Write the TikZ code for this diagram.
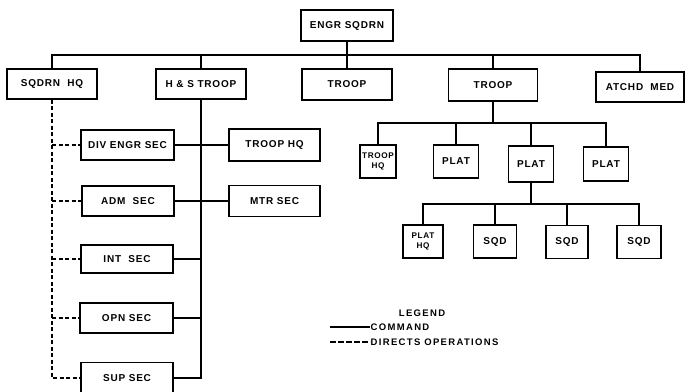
\documentclass[tikz,border=0pt]{standalone}
\usepackage{fontspec}
\setmainfont[LetterSpace=8]{Liberation Sans}
\begin{document}
\begin{tikzpicture}[x=1pt,y=-1pt,
  box/.style={draw, line width=1.7pt, inner sep=0pt, align=center,
    font=\bfseries\fontsize{10}{11}\selectfont},
  smallbox/.style={box, font=\bfseries\fontsize{8.2}{9.2}\selectfont},
  lbl/.style={inner sep=0.5pt, font=\bfseries\fontsize{9.5}{10.5}\selectfont\addfontfeatures{LetterSpace=14}},
  cmd/.style={line width=1.8pt},
  ops/.style={line width=1.8pt, dash pattern=on 4pt off 2.5pt}]
\useasboundingbox (0,0) rectangle (685,391);

% top level
\node[box, minimum width=92pt, minimum height=31pt] (engr) at (347,25.5) {ENGR SQDRN};
\node[box, minimum width=90pt, minimum height=30pt] (sqhq) at (52,84) {SQDRN~~HQ};
\node[box, minimum width=90pt, minimum height=30pt] (hs) at (201,84) {H \& S TROOP};
\node[box, minimum width=90pt, minimum height=31pt] (tra) at (347,84.5) {TROOP};
\node[box, minimum width=89pt, minimum height=32pt] (trb) at (493,85) {TROOP};
\node[box, minimum width=88pt, minimum height=30pt] (med) at (640,87) {ATCHD~~MED};

% H&S troop sections
\node[box, minimum width=93pt, minimum height=30pt] (div) at (127.5,145) {DIV ENGR SEC};
\node[box, minimum width=92pt, minimum height=30pt] (adm) at (128,201) {ADM~~SEC};
\node[box, minimum width=92pt, minimum height=28pt] (int) at (127,259) {INT~~SEC};
\node[box, minimum width=93pt, minimum height=30pt] (opn) at (126.5,318) {OPN SEC};
\node[box, minimum width=92pt, minimum height=31pt] (sup) at (127,378) {SUP SEC};
\node[box, minimum width=91pt, minimum height=32pt] (thq) at (274.5,145) {TROOP HQ};
\node[box, minimum width=91pt, minimum height=31pt] (mtr) at (274.5,201) {MTR SEC};

% troop subtree
\node[smallbox, minimum width=36pt, minimum height=33pt] (thqb) at (378,161.5) {TROOP\\HQ};
\node[box, minimum width=45pt, minimum height=33pt] (pa) at (456,161.5) {PLAT};
\node[box, minimum width=45pt, minimum height=36pt] (pb) at (531,164) {PLAT};
\node[box, minimum width=45pt, minimum height=34pt] (pc) at (606,164) {PLAT};
\node[smallbox, minimum width=40pt, minimum height=33pt] (phq) at (423,241.5) {PLAT\\HQ};
\node[box, minimum width=43pt, minimum height=33pt] (sa) at (495,241.5) {SQD};
\node[box, minimum width=42pt, minimum height=33pt] (sb) at (567,242) {SQD};
\node[box, minimum width=44pt, minimum height=33pt] (sc) at (639,242) {SQD};

% top bus
\coordinate (busA) at (0,55);
\draw[cmd] (engr.south) -- (tra.north);
\draw[cmd] (sqhq.north) |- (med.north |- busA) -- (med.north);
\draw[cmd] (hs.north) -- (hs.north |- busA);
\draw[cmd] (trb.north) -- (trb.north |- busA);

% directs operations (dashed)
\draw[ops] (sqhq.south) -- (sqhq.south |- sup.west) -- (sup.west);
\draw[ops] (sqhq.south |- div.west) -- (div.west);
\draw[ops] (sqhq.south |- adm.west) -- (adm.west);
\draw[ops] (sqhq.south |- int.west) -- (int.west);
\draw[ops] (sqhq.south |- opn.west) -- (opn.west);

% command from H&S troop
\draw[cmd] (hs.south) -- (hs.south |- sup.east) -- (sup.east);
\draw[cmd] (div.east) -- (thq.west);
\draw[cmd] (adm.east) -- (mtr.west);
\draw[cmd] (int.east) -- (hs.south |- int.east);
\draw[cmd] (opn.east) -- (hs.south |- opn.east);

% troop subtree connectors
\coordinate (busB) at (0,123);
\draw[cmd] (trb.south) -- (trb.south |- busB);
\draw[cmd] (thqb.north) |- (pc.north |- busB) -- (pc.north);
\draw[cmd] (pa.north) -- (pa.north |- busB);
\draw[cmd] (pb.north) -- (pb.north |- busB);
\coordinate (busC) at (0,204);
\draw[cmd] (pb.south) -- (pb.south |- busC);
\draw[cmd] (phq.north) |- (sc.north |- busC) -- (sc.north);
\draw[cmd] (sa.north) -- (sa.north |- busC);
\draw[cmd] (sb.north) -- (sb.north |- busC);

% legend
\node[lbl] (leg) at (422,313) {LEGEND};
\node[lbl, anchor=west] (lcmd) at (370,327) {COMMAND};
\node[lbl, anchor=west] (lops) at (370,342) {DIRECTS OPERATIONS};
\coordinate (lc) at (330,327);
\coordinate (lo) at (330,342);
\draw[line width=1.4pt] (lc) -- (lcmd.west);
\draw[line width=1.4pt, dash pattern=on 6pt off 2pt] (lo) -- (lops.west);
\end{tikzpicture}
\end{document}
